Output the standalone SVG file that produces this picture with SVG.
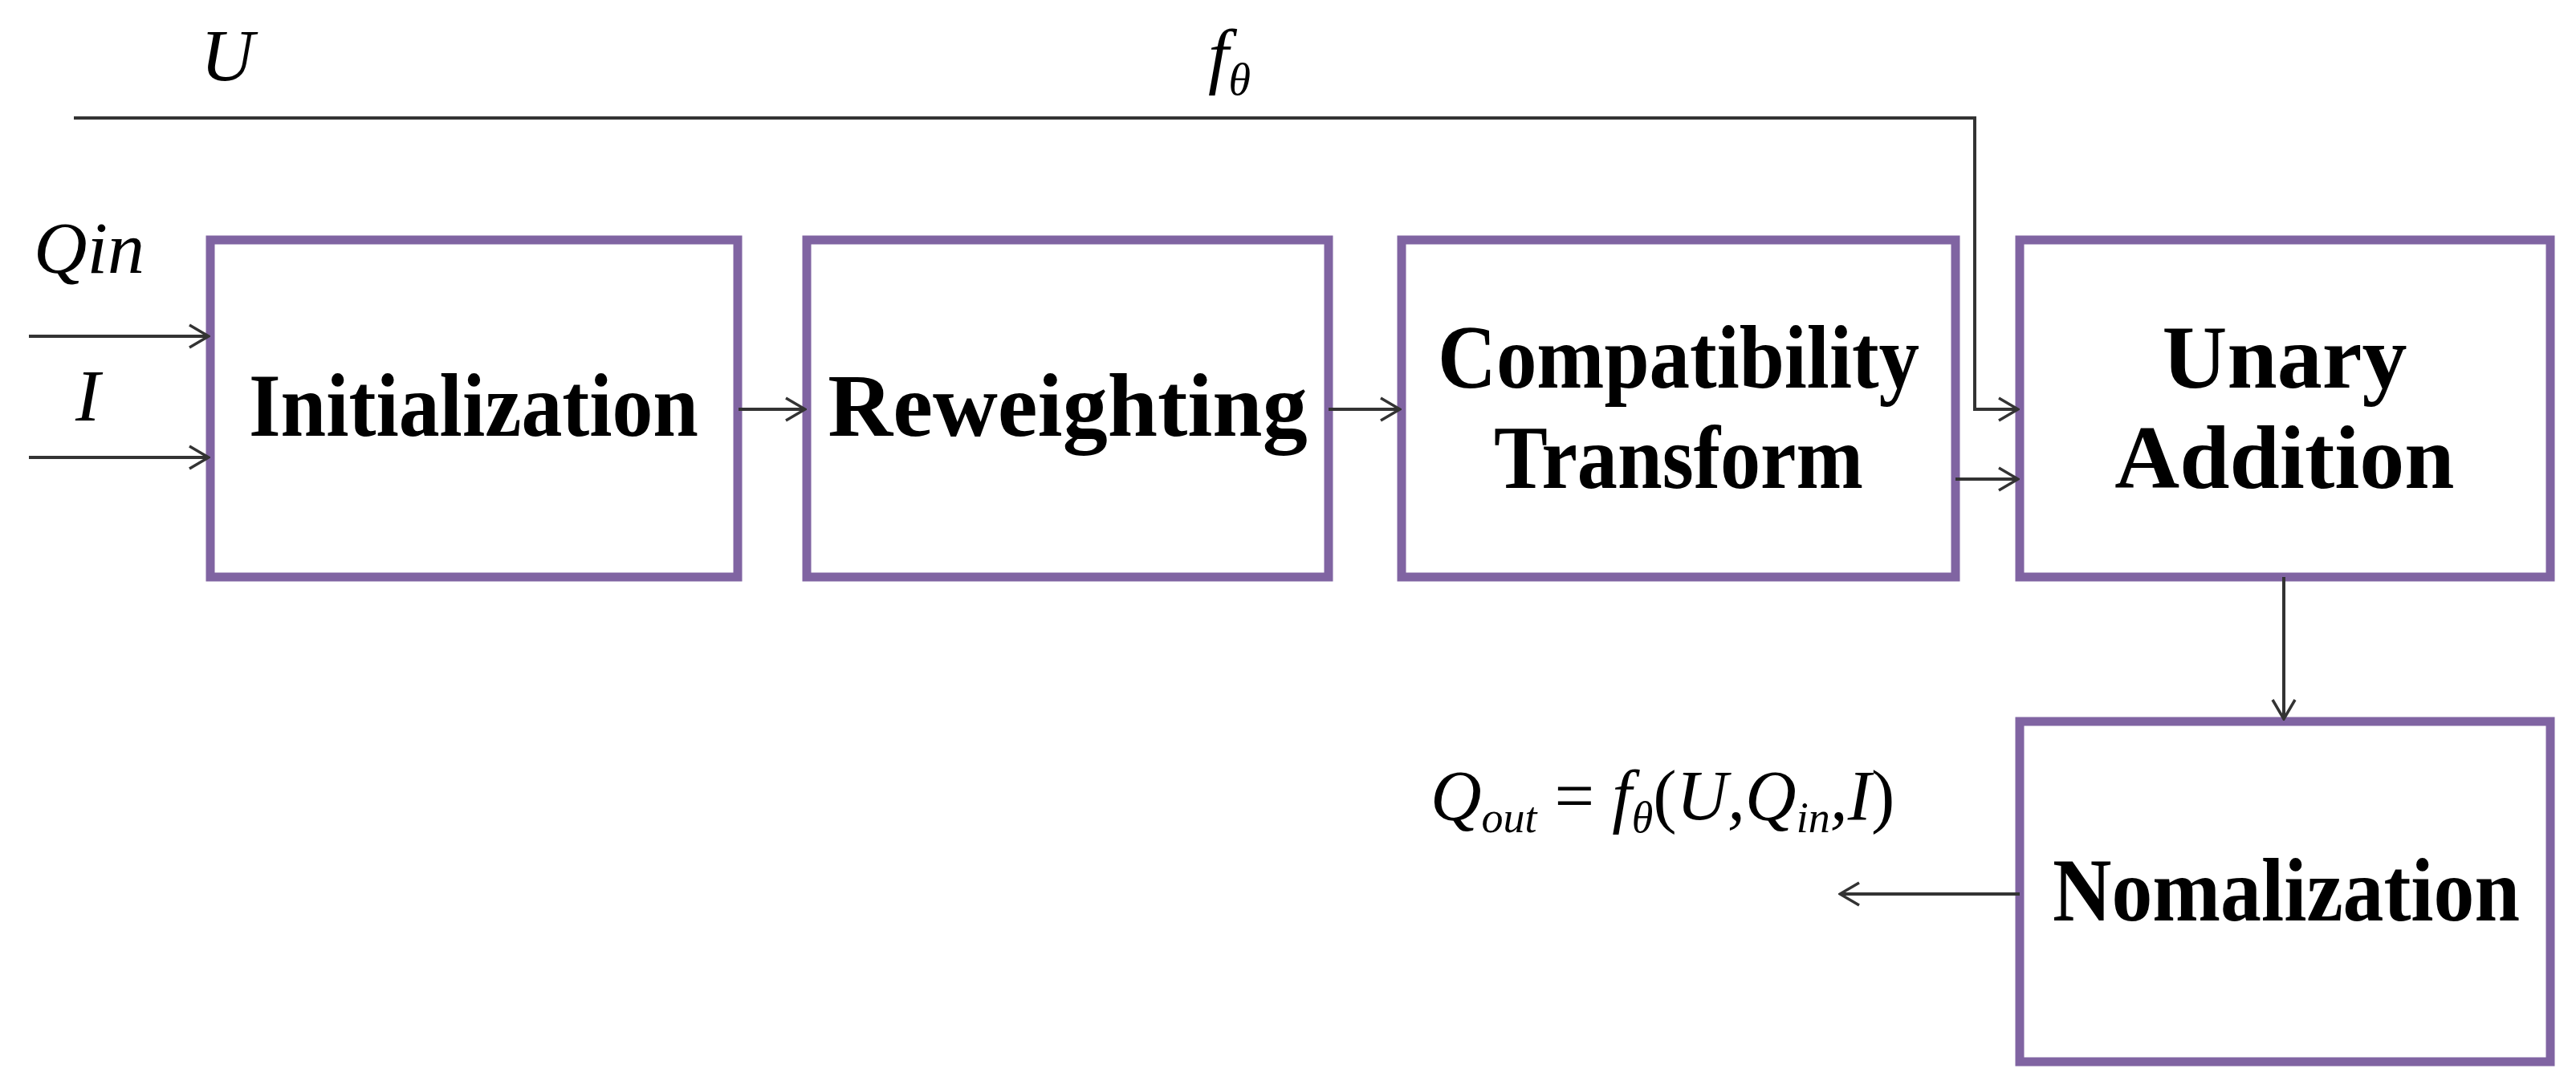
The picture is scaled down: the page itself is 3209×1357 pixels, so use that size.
<svg xmlns="http://www.w3.org/2000/svg" width="3209" height="1357" viewBox="0 0 3209 1357">
<style>
.box{fill:#fff;stroke:#8064a2;stroke-width:11}
.lbl{font-family:"Liberation Serif",serif;font-weight:bold;font-size:112px;fill:#000;text-anchor:middle}
.it{font-family:"Liberation Serif",serif;font-style:italic;fill:#000}
.ln{fill:none;stroke:#333;stroke-width:4}
</style>
<defs>
<marker id="ah" markerWidth="40" markerHeight="40" refX="38" refY="20" orient="auto" markerUnits="userSpaceOnUse">
<path d="M14,6 L38,20 L14,34" fill="none" stroke="#333" stroke-width="3.5"/>
</marker>
</defs>
<rect width="3209" height="1357" fill="#fff"/>
<g id="n-init"><rect class="box" x="262" y="299" width="657" height="420"/><text class="lbl" x="590" y="543" textLength="560" lengthAdjust="spacingAndGlyphs">Initialization</text></g>
<g id="n-rew"><rect class="box" x="1005" y="299" width="650" height="420"/><text class="lbl" x="1330" y="543">Reweighting</text></g>
<g id="n-comp"><rect class="box" x="1746" y="299" width="690" height="420"/><text class="lbl" x="2091" y="483" textLength="600" lengthAdjust="spacingAndGlyphs">Compatibility</text><text class="lbl" x="2091" y="608" textLength="460" lengthAdjust="spacingAndGlyphs">Transform</text></g>
<g id="n-unary"><rect class="box" x="2516" y="299" width="661" height="420"/><text class="lbl" x="2846" y="483">Unary</text><text class="lbl" x="2846" y="608">Addition</text></g>
<g id="n-norm"><rect class="box" x="2516" y="899" width="661" height="424"/><text class="lbl" x="2848" y="1147" textLength="582" lengthAdjust="spacingAndGlyphs">Nomalization</text></g>
<g id="connectors">
<path class="ln" d="M92,147 H2460 V510 H2514" marker-end="url(#ah)"/>
<path class="ln" d="M36,419 H260" marker-end="url(#ah)"/>
<path class="ln" d="M36,570 H260" marker-end="url(#ah)"/>
<path class="ln" d="M920,510 H1003" marker-end="url(#ah)"/>
<path class="ln" d="M1655,510 H1744" marker-end="url(#ah)"/>
<path class="ln" d="M2436,597 H2514" marker-end="url(#ah)"/>
<path class="ln" d="M2845,719 V896" marker-end="url(#ah)"/>
<path class="ln" d="M2516,1114 H2292" marker-end="url(#ah)"/>
</g>
<g id="labels">
<text class="it" x="250" y="100" font-size="92">U</text>
<text class="it" x="1505" y="100" font-size="92">f<tspan font-size="56" dy="18">θ</tspan></text>
<text class="it" x="42" y="340" font-size="92">Qin</text>
<text class="it" x="94" y="524" font-size="92">I</text>
<text class="it" x="1782" y="1021" font-size="88">Q<tspan font-size="54" dy="16">out</tspan><tspan font-style="normal" dy="-16" font-size="88"> = </tspan>f<tspan font-size="54" dy="16">θ</tspan><tspan dy="-16" font-style="normal">(</tspan>U,Q<tspan font-size="54" dy="16">in</tspan><tspan dy="-16">,I</tspan><tspan font-style="normal">)</tspan></text>
</g>
</svg>
